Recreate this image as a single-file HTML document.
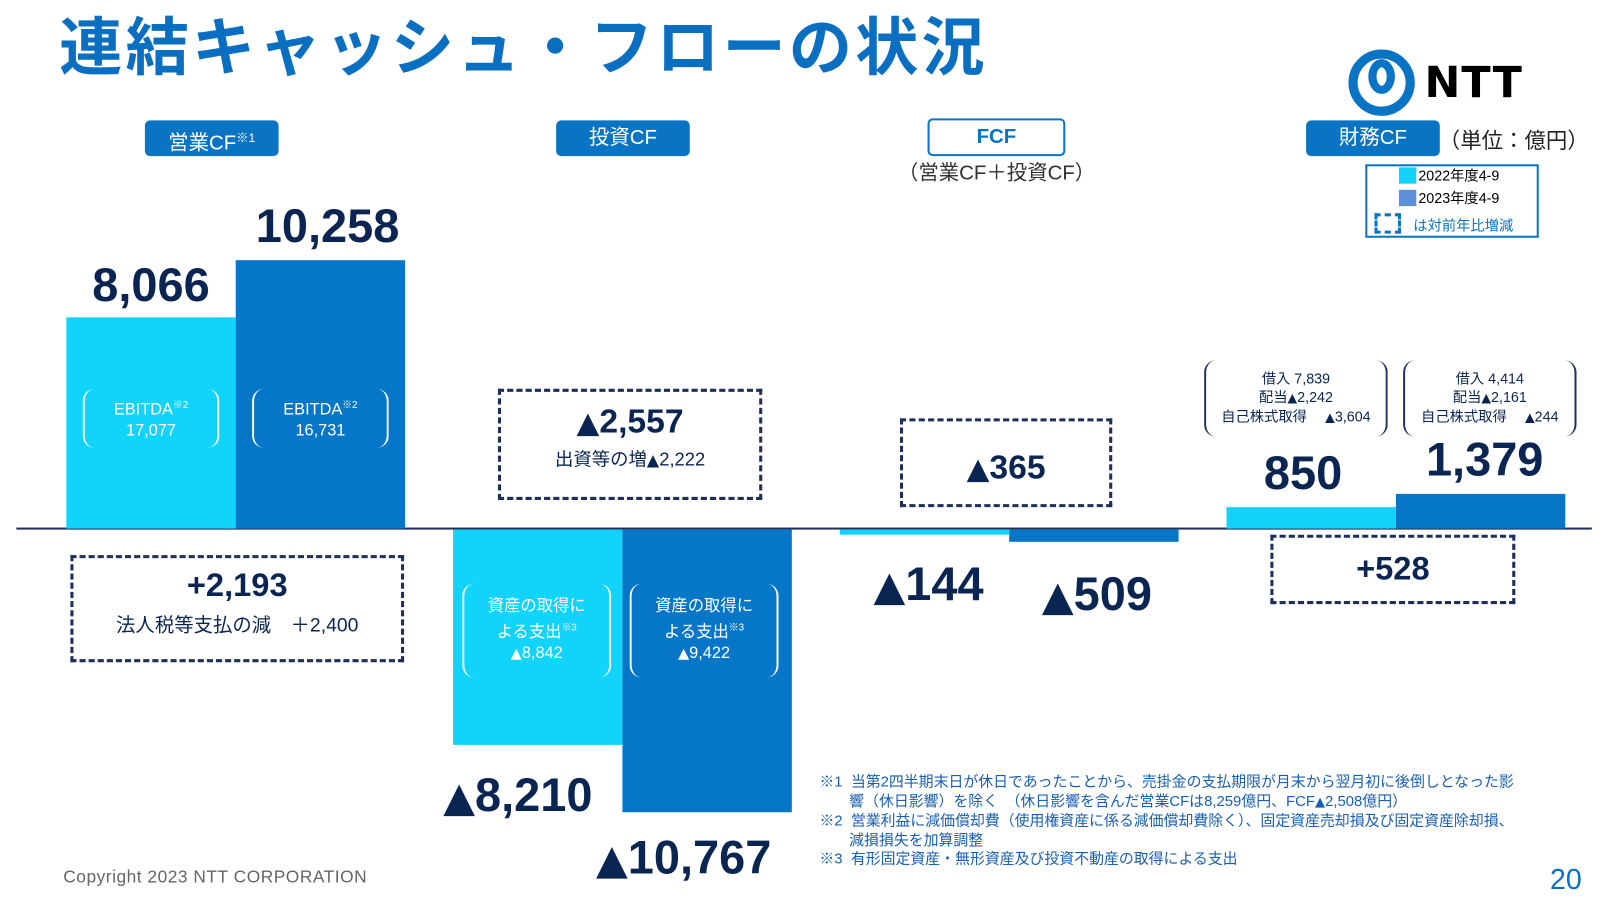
<!DOCTYPE html>
<html><head><meta charset="utf-8"><style>
html,body{margin:0;padding:0;background:#fff;width:1600px;height:900px;overflow:hidden}
#s{position:absolute;left:0;top:0;width:1568px;height:882px;transform:scale(1.0204);transform-origin:0 0;font-family:"Liberation Sans","Noto Sans CJK JP",sans-serif}
.a{position:absolute}
.lb{background:#0a74c4;color:#fff;border-radius:5px;font-size:20px;text-align:center;line-height:35px;height:35px}
.n{color:#0b2552;font-weight:bold;text-align:center;white-space:nowrap}
.l{background:#12d4fa}.d{background:#0677c8}
.db{border:3px dashed #1e2f5c;box-sizing:border-box;text-align:center;color:#0b2552}
.br{border-left:2px solid #fff;border-right:2px solid #fff;border-radius:12px;box-sizing:border-box;color:#fff;text-align:center;font-size:16px;line-height:21px}
.brk{border-left:2px solid #1e2f5c;border-right:2px solid #1e2f5c;border-radius:12px;box-sizing:border-box;color:#0b2552;text-align:center;font-size:14px;line-height:18px}
sup{font-size:60%}
.t{font-family:"DejaVu Sans",sans-serif;font-size:88%}
</style></head><body><div id="s">
<div class="a" style="left:58px;top:-4px;font-size:62px;font-weight:bold;color:#0a6fc0;letter-spacing:3px">連結キャッシュ・フローの状況</div>
<svg class="a" style="left:1320px;top:48px" width="70" height="66"><circle cx="34" cy="33" r="28" fill="none" stroke="#0a74c4" stroke-width="9"/><ellipse cx="34" cy="27" rx="9" ry="13" fill="none" stroke="#0a74c4" stroke-width="8"/></svg>
<div class="a" style="left:1396px;top:56px;font-size:42px;font-weight:900;font-family:'DejaVu Sans',sans-serif;color:#000;letter-spacing:1px">NTT</div>
<div class="a lb" style="left:142px;top:118px;width:131px">営業CF<sup>※1</sup></div>
<div class="a lb" style="left:545px;top:118px;width:131px">投資CF</div>
<div class="a" style="left:909px;top:116px;width:131px;height:33px;border:2px solid #0a74c4;border-radius:5px;color:#0a74c4;font-weight:bold;font-size:20px;text-align:center;line-height:33px">FCF</div>
<div class="a" style="left:880px;top:153px;width:190px;text-align:center;font-size:20px;color:#333">（営業CF＋投資CF）</div>
<div class="a lb" style="left:1280px;top:118px;width:131px">財務CF</div>
<div class="a" style="left:1410px;top:122px;font-size:21px;color:#222">（単位：億円）</div>
<div class="a" style="left:1338px;top:161px;width:170px;height:72px;border:2px solid #0a74c4;box-sizing:border-box"></div>
<div class="a l" style="left:1371px;top:164px;width:17px;height:16px"></div>
<div class="a" style="left:1390px;top:162px;font-size:14px">2022年度4-9</div>
<div class="a" style="left:1371px;top:186px;width:17px;height:16px;background:#5b8fd8"></div>
<div class="a" style="left:1390px;top:184px;font-size:14px">2023年度4-9</div>
<div class="a" style="left:1347px;top:209px;width:26px;height:20px;border:3px dashed #0a74c4;box-sizing:border-box"></div>
<div class="a" style="left:1385px;top:211px;font-size:14px;color:#0a74c4">は対前年比増減</div>

<div class="a" style="left:16px;top:517px;width:1544px;height:2px;background:#1e2f5c"></div>
<div class="a l" style="left:65px;top:311px;width:166px;height:207px"></div>
<div class="a d" style="left:231px;top:255px;width:166px;height:263px"></div>
<div class="a n" style="left:65px;top:252px;width:166px;font-size:46px">8,066</div>
<div class="a n" style="left:231px;top:194px;width:180px;font-size:46px">10,258</div>
<div class="a br" style="left:81px;top:381px;width:134px;height:58px;padding-top:6px">EBITDA<sup>※2</sup><br>17,077</div>
<div class="a br" style="left:247px;top:381px;width:134px;height:58px;padding-top:6px">EBITDA<sup>※2</sup><br>16,731</div>
<div class="a db" style="left:69px;top:544px;width:327px;height:105px"><div style="font-size:32px;font-weight:bold;margin-top:8px">+2,193</div><div style="font-size:19px;margin-top:6px">法人税等支払の減　＋2,400</div></div>
<div class="a l" style="left:444px;top:519px;width:166px;height:211px"></div>
<div class="a d" style="left:610px;top:519px;width:166px;height:277px"></div>
<div class="a br" style="left:453px;top:572px;width:146px;height:92px;padding-top:12px">資産の取得に<br>よる支出<sup>※3</sup><br><span class="t">▲</span>8,842</div>
<div class="a br" style="left:617px;top:572px;width:146px;height:92px;padding-top:12px">資産の取得に<br>よる支出<sup>※3</sup><br><span class="t">▲</span>9,422</div>
<div class="a n" style="left:415px;top:752px;width:185px;font-size:46px"><span class="t">▲</span>8,210</div>
<div class="a n" style="left:565px;top:813px;width:210px;font-size:46px"><span class="t">▲</span>10,767</div>
<div class="a db" style="left:488px;top:381px;width:259px;height:109px"><div style="font-size:33px;font-weight:bold;margin-top:10px"><span class="t">▲</span>2,557</div><div style="font-size:18px;margin-top:4px">出資等の増<span class="t">▲</span>2,222</div></div>
<div class="a l" style="left:823px;top:519px;width:166px;height:5px"></div>
<div class="a d" style="left:989px;top:519px;width:166px;height:12px"></div>
<div class="a n" style="left:825px;top:545px;width:170px;font-size:46px"><span class="t">▲</span>144</div>
<div class="a n" style="left:990px;top:555px;width:170px;font-size:46px"><span class="t">▲</span>509</div>
<div class="a db" style="left:882px;top:410px;width:208px;height:87px"><div style="font-size:33px;font-weight:bold;margin-top:26px"><span class="t">▲</span>365</div></div>
<div class="a l" style="left:1202px;top:497px;width:166px;height:21px"></div>
<div class="a d" style="left:1368px;top:484px;width:166px;height:34px"></div>
<div class="a n" style="left:1202px;top:436px;width:150px;font-size:46px">850</div>
<div class="a n" style="left:1370px;top:423px;width:170px;font-size:46px">1,379</div>
<div class="a brk" style="left:1180px;top:353px;width:180px;height:75px;padding-top:9px">借入 7,839<br>配当<span class="t">▲</span>2,242<br>自己株式取得　 <span class="t">▲</span>3,604</div>
<div class="a brk" style="left:1375px;top:353px;width:170px;height:75px;padding-top:9px">借入 4,414<br>配当<span class="t">▲</span>2,161<br>自己株式取得　 <span class="t">▲</span>244</div>
<div class="a db" style="left:1245px;top:524px;width:240px;height:68px"><div style="font-size:32px;font-weight:bold;margin-top:12px">+528</div></div>
<div class="a" style="left:803px;top:758px;font-size:14.6px;line-height:18.5px;color:#1a5fb0;width:760px">※1&nbsp; 当第2四半期末日が休日であったことから、売掛金の支払期限が月末から翌月初に後倒しとなった影<br>　　響（休日影響）を除く　（休日影響を含んだ営業CFは8,259億円、FCF<span class="t">▲</span>2,508億円）<br>※2&nbsp; 営業利益に減価償却費（使用権資産に係る減価償却費除く）、固定資産売却損及び固定資産除却損、<br>　　減損損失を加算調整<br>※3&nbsp; 有形固定資産・無形資産及び投資不動産の取得による支出</div>
<div class="a" style="left:62px;top:850px;font-size:17px;color:#666;letter-spacing:0.5px">Copyright 2023 NTT CORPORATION</div>
<div class="a" style="left:1519px;top:846px;font-size:28px;color:#0a6fc0">20</div>
</div></body></html>
